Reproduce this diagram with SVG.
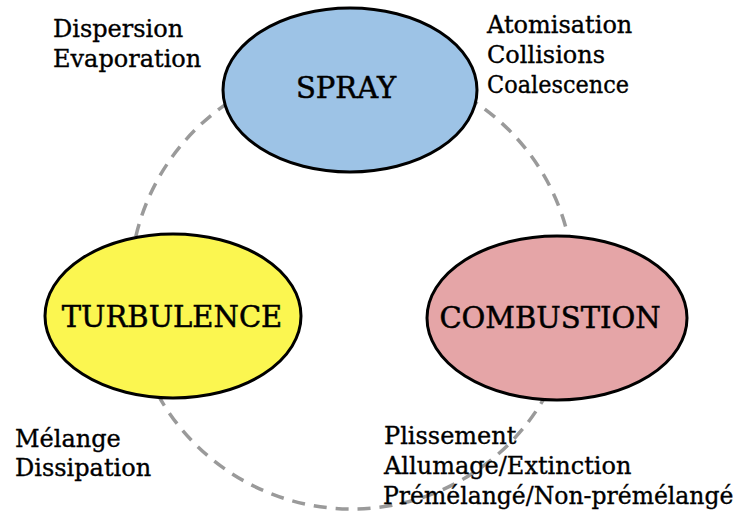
<svg xmlns="http://www.w3.org/2000/svg" width="735" height="515" viewBox="0 0 735 515">
<style>
.node{stroke:#000;stroke-width:3}
.big{font-family:"DejaVu Serif","Liberation Serif",serif;font-size:29px;fill:#000;stroke:#000;stroke-width:0.5;text-anchor:middle}
.lbl{font-family:"DejaVu Serif","Liberation Serif",serif;font-size:24px;fill:#000;stroke:#000;stroke-width:0.35}
.dash{fill:none;stroke:#9a9a9a;stroke-width:3.5;stroke-dasharray:13 9}
</style>
<rect width="735" height="515" fill="#fff"/>
<g id="connectors">
<circle class="dash" cx="352" cy="287" r="222"/>
</g>
<g id="spray">
<ellipse class="node" cx="350" cy="90" rx="127" ry="82" fill="#9dc3e6"/>
<text class="big" x="346" y="98">SPRAY</text>
</g>
<g id="turbulence">
<ellipse class="node" cx="173" cy="316" rx="128" ry="82" fill="#fbf650"/>
<text class="big" x="172" y="327">TURBULENCE</text>
</g>
<g id="combustion">
<ellipse class="node" cx="557" cy="318" rx="130" ry="82" fill="#e5a5a7"/>
<text class="big" x="550" y="328">COMBUSTION</text>
</g>
<g id="labels">
<text class="lbl" x="53" y="37">Dispersion</text>
<text class="lbl" x="53" y="67">Evaporation</text>
<text class="lbl" x="487" y="33">Atomisation</text>
<text class="lbl" x="487" y="63">Collisions</text>
<text class="lbl" x="487" y="93" textLength="142" lengthAdjust="spacingAndGlyphs">Coalescence</text>
<text class="lbl" x="15" y="447">Mélange</text>
<text class="lbl" x="15" y="476">Dissipation</text>
<text class="lbl" x="384" y="444">Plissement</text>
<text class="lbl" x="384" y="474">Allumage/Extinction</text>
<text class="lbl" x="383" y="504" style="font-size:23.5px">Prémélangé/Non-prémélangé</text>
</g>
</svg>
